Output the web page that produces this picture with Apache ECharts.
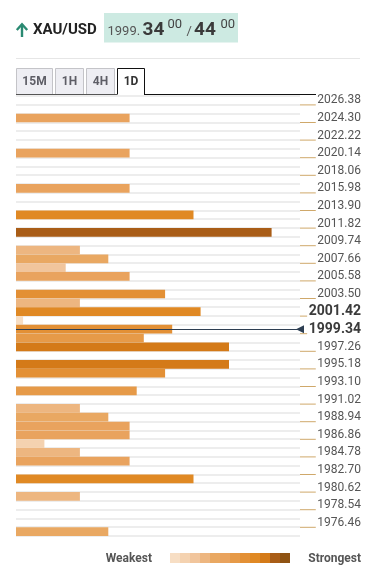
<!DOCTYPE html>
<html>
<head>
<meta charset="utf-8">
<script src="https://cdn.jsdelivr.net/npm/echarts@6/dist/echarts.min.js"></script>
<style>
  html, body { margin: 0; padding: 0; background: #ffffff; }
  #chart { width: 383px; height: 581px; }
</style>
</head>
<body>
<div id="chart"></div>
<script>
// ---- Data ----
const tickLabels = ['2026.38','2024.30','2022.22','2020.14','2018.06','2015.98','2013.90','2011.82',
  '2009.74','2007.66','2005.58','2003.50','2001.42','1999.34','1997.26','1995.18','1993.10',
  '1991.02','1988.94','1986.86','1984.78','1982.70','1980.62','1978.54','1976.46'];
// strength per price row (row 0 = top, each row is half a label step)
const strengthValues = [0,0,16,0,0,0,16,0,0,0,16,0,0,25,0,36,0,9,13,7,16,0,21,9,26,1,22,18,30,0,
  30,21,0,17,0,9,13,16,16,4,9,16,0,25,0,9,0,0,0,13];
const highlightLabels = ['2001.42','1999.34'];
const currentPriceRow = 26; // current price line sits at the top edge of the 1999.34 row
const pair = 'XAU/USD';
const bidMain = '1999.', bidBig = '34', bidSup = '00', askBig = '44', askSup = '00';
const tabs = ['15M','1H','4H','1D'];
const legendText = ['Weakest', 'Strongest'];
const legendColors = ['#f7dec4','#f4d2b0','#f1c59c','#edb680','#e9a862','#e9a35e','#e69a48','#e39035','#e08924','#d47a18','#a95d17','#8f5313'];
const pieceBounds = [0,3,6,8,11,15,17,20,24,28,33,37,41];

// ---- Build ----
const FONT = 'Roboto';
const rowCount = strengthValues.length;
const categories = strengthValues.map((_, k) => k % 2 === 0 ? tickLabels[k / 2] : 'r' + k);
const barData = [];
strengthValues.forEach((v, k) => { if (v > 0) barData.push([v, k]); });
const pieces = legendColors.map((c, i) => ({ gte: pieceBounds[i], lt: pieceBounds[i + 1], color: c }));

// label ticks: a tan leader from the plot edge up to the label text
const LABEL_SPAN = 61, TICK_GAP = 1.6;
const measureCtx = document.createElement('canvas').getContext('2d');
function textWidth(t, font) { measureCtx.font = font; return measureCtx.measureText(t).width; }
const rich = {
  n: { fontSize: 12, color: '#555', fontFamily: FONT, lineHeight: 10 },
  b: { fontSize: 14, fontWeight: 'bold', color: '#3b3b3b', fontFamily: FONT, lineHeight: 10 }
};
tickLabels.forEach((lab, i) => {
  const bold = highlightLabels.includes(lab);
  const w = textWidth(lab, bold ? 'bold 14px ' + FONT : '12px ' + FONT);
  rich['t' + i] = { width: Math.max(1, LABEL_SPAN - w - TICK_GAP), height: 1, backgroundColor: '#cfa86a', verticalAlign: 'bottom' };
  rich['g' + i] = { width: TICK_GAP, height: 1 };
});

const chart = echarts.init(document.getElementById('chart'), null, { renderer: 'canvas' });

const tabX = [[16,52],[55,83],[86,114],[117,144]];
const graphics = [];
function txt(x, y, text, font, fill, align) {
  graphics.push({ type: 'text', style: { x: x, y: y, text: text, font: font, fill: fill, align: align || 'left', verticalAlign: 'middle' } });
}
// header
graphics.push({ type: 'polyline', shape: { points: [[22, 37], [22, 24.5]] }, style: { stroke: '#2a8a72', lineWidth: 2.4, fill: null } });
graphics.push({ type: 'polyline', shape: { points: [[16.8, 30], [22, 24.3], [27.2, 30]] }, style: { stroke: '#2a8a72', lineWidth: 2.4, fill: null } });
graphics.push({ type: 'rect', shape: { x: 104, y: 13, width: 134, height: 29.5 }, style: { fill: '#cdeae2' } });
txt(33, 30, pair, 'bold 15px ' + FONT, '#222');
txt(107.5, 31.8, bidMain, '13px ' + FONT, '#555');
txt(142.5, 30.2, bidBig, 'bold 19px ' + FONT, '#3a3a3a');
txt(167.5, 25, bidSup, '13px ' + FONT, '#444');
txt(186.5, 31.5, '/', '13px ' + FONT, '#555');
txt(194, 30.2, askBig, 'bold 19px ' + FONT, '#3a3a3a');
txt(220.5, 25, askSup, '13px ' + FONT, '#444');
graphics.push({ type: 'line', shape: { x1: 16, y1: 58.5, x2: 360, y2: 58.5 }, style: { stroke: '#e6e6e6', lineWidth: 1 } });
// tabs
tabs.forEach((t, i) => {
  const [x0, x1] = tabX[i];
  const active = i === tabs.length - 1;
  if (!active) {
    graphics.push({ type: 'rect', shape: { x: x0 + 0.5, y: 68.5, width: x1 - x0, height: 26 }, style: { fill: '#eeeef3', stroke: '#c4c4c8', lineWidth: 1 } });
  }
  txt((x0 + x1) / 2 + 0.5, 82, t, 'bold 12px ' + FONT, active ? '#333' : '#5e5e66', 'center');
});
graphics.push({ type: 'line', shape: { x1: 16, y1: 94.5, x2: 117, y2: 94.5 }, style: { stroke: '#555', lineWidth: 1 } });
graphics.push({ type: 'line', shape: { x1: 144, y1: 94.5, x2: 316, y2: 94.5 }, style: { stroke: '#111', lineWidth: 1 } });
graphics.push({ type: 'polyline', shape: { points: [[117.5, 94.5], [117.5, 68.5], [144.5, 68.5], [144.5, 94.5]] }, style: { stroke: '#111', lineWidth: 1, fill: null } });
// legend end texts
txt(152, 558.5, legendText[0], 'bold 12px ' + FONT, '#555', 'right');
txt(361, 558.5, legendText[1], 'bold 12px ' + FONT, '#555', 'right');

const option = {
  animation: false,
  textStyle: { fontFamily: FONT },
  grid: { left: 16, right: 83, top: 96, height: rowCount * 8.8 },
  xAxis: { type: 'value', min: 0, max: 40, show: false },
  yAxis: {
    type: 'category',
    data: categories,
    inverse: true,
    position: 'right',
    axisLine: { show: false },
    axisTick: { show: false },
    axisLabel: {
      interval: (i) => i % 2 === 0,
      align: 'right',
      margin: LABEL_SPAN,
      fontSize: 12,
      color: '#555',
      fontFamily: FONT,
      formatter: (v) => {
        if (v.startsWith('r')) return '';
        const i = tickLabels.indexOf(v);
        const s = highlightLabels.includes(v) ? 'b' : 'n';
        return '{t' + i + '|}{g' + i + '|}{' + s + '|' + v + '}';
      },
      rich: rich
    },
    splitLine: { show: true, interval: 0, lineStyle: { color: '#ededed', width: 2 } }
  },
  visualMap: {
    type: 'piecewise',
    seriesIndex: 0,
    dimension: 0,
    orient: 'horizontal',
    pieces: pieces,
    left: 170,
    top: 553,
    padding: 0,
    itemWidth: 10,
    itemHeight: 10,
    itemGap: 0,
    itemSymbol: 'rect',
    showLabel: false,
    selectedMode: false
  },
  graphic: graphics,
  series: [{
    type: 'bar',
    data: barData,
    encode: { x: 0, y: 1 },
    barCategoryGap: '1%',
    silent: true,
    markLine: {
      silent: true,
      symbol: ['none', 'triangle'],
      symbolSize: [8, 8],
      symbolRotate: 90,
      label: { show: false },
      lineStyle: { color: '#2d3e52', width: 1.2, type: 'solid' },
      data: [[{ coord: [0, currentPriceRow - 0.5] }, { coord: [40, currentPriceRow - 0.5] }]]
    }
  }]
};
chart.setOption(option);
</script>
</body>
</html>
